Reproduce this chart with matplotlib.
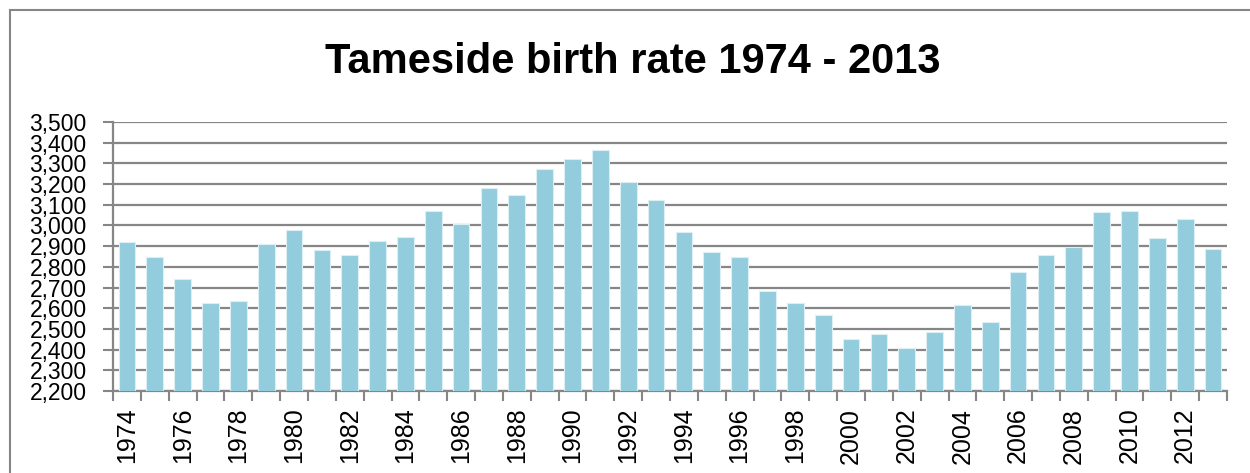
import numpy as np
import matplotlib
matplotlib.use("Agg")
from matplotlib import pyplot as plt
from matplotlib.ticker import FuncFormatter, FixedLocator
from matplotlib.patches import Rectangle

years = list(range(1974, 2014))
births = [2918, 2847, 2739, 2623, 2635, 2910, 2976, 2881, 2858, 2923,
          2944, 3069, 3005, 3181, 3145, 3271, 3319, 3363, 3208, 3121,
          2966, 2871, 2850, 2682, 2623, 2568, 2453, 2477, 2408, 2487,
          2614, 2532, 2773, 2855, 2895, 3064, 3069, 2940, 3031, 2885]
y_ticks = list(range(2200, 3501, 100))

plt.rcParams['font.family'] = ['Liberation Sans', 'DejaVu Sans']
grey = '#868686'

fig = plt.figure(figsize=(12.5, 4.73), dpi=100)
ax = fig.add_axes([113 / 1250, 1 - 391 / 473, (1227 - 113) / 1250, (391 - 122) / 473])

x = np.arange(len(years))
ax.bar(x, births, width=0.6, color='#93CDDD', edgecolor='#DCEFF4', linewidth=0.8, zorder=3)

ax.set_ylim(2200, 3500)
ax.set_xlim(-0.5, len(years) - 0.5)
ax.set_yticks(y_ticks)
ax.yaxis.set_major_formatter(FuncFormatter(lambda v, p: f"{int(v):,}"))
ax.grid(axis='y', color=grey, linewidth=1.6, zorder=0)

ax.set_xticks(x[::2])
ax.set_xticklabels([str(y) for y in years[::2]], rotation=90)
ax.xaxis.set_minor_locator(FixedLocator(np.arange(-0.5, len(years), 1.0)))
ax.tick_params(axis='x', which='major', length=0, pad=12, labelsize=18)
ax.tick_params(axis='x', which='minor', length=7, width=1.5, color=grey)
ax.tick_params(axis='y', length=7, width=1.5, color=grey, pad=12, labelsize=16.5)

for s in ['top', 'right']:
    ax.spines[s].set_visible(False)
for s in ['left', 'bottom']:
    ax.spines[s].set_color(grey)
    ax.spines[s].set_linewidth(1.6)

fig.text(633 / 1250, 1 - 62 / 473, "Tameside birth rate 1974 - 2013",
         ha='center', va='center', fontsize=30, fontweight='bold')

fig.patches.append(Rectangle((10 / 1250, -0.1), 1.2, 1 - 10 / 473 + 0.1,
                             transform=fig.transFigure, fill=False,
                             edgecolor=grey, linewidth=1.5))

plt.savefig("out.png", dpi=100)
